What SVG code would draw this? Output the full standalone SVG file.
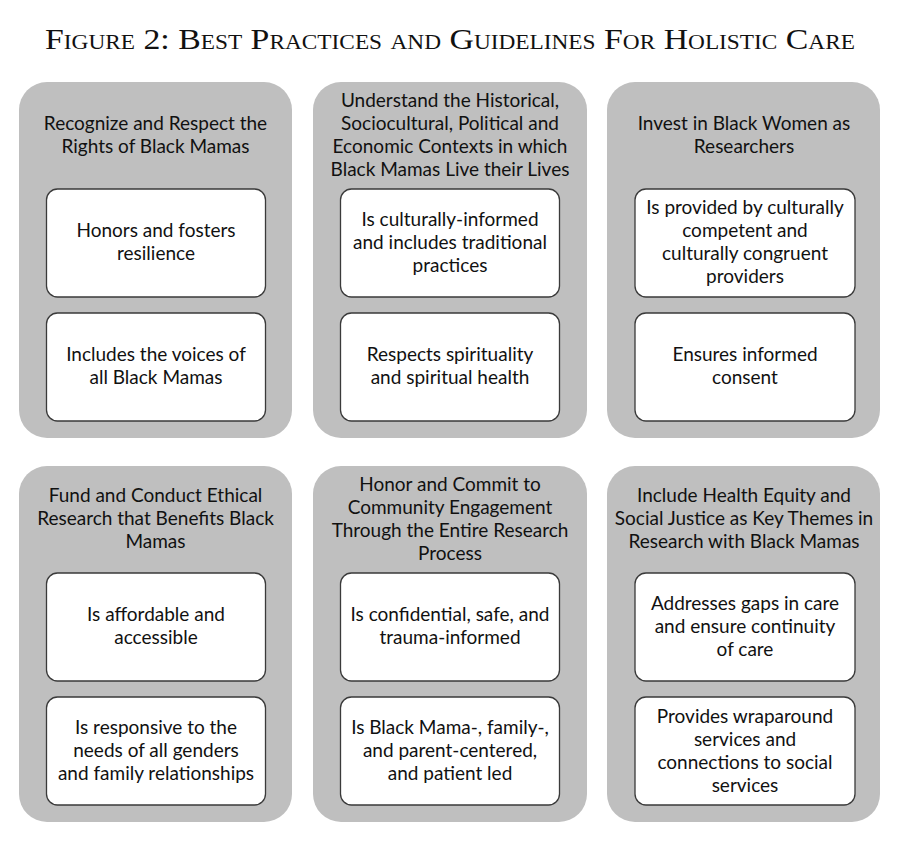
<svg xmlns="http://www.w3.org/2000/svg" width="898" height="842" viewBox="0 0 898 842">
<style>
.bg{fill:#ffffff}
.outer{fill:#bfbfbf}
.inner{fill:#ffffff;stroke:#3a3a3a;stroke-width:1.3}
.t{font-family:Lato,"Open Sans","Noto Sans",sans-serif;font-size:19px;fill:#111111;text-anchor:middle}
.title{font-family:"Liberation Serif","Times New Roman",serif;font-size:29px;font-variant:small-caps;fill:#111111;text-anchor:middle}
</style>
<rect class="bg" x="0" y="0" width="898" height="842"/>
<text class="title" x="450" y="49" textLength="810" lengthAdjust="spacingAndGlyphs">Figure 2: Best Practices and Guidelines For Holistic Care</text>

<g id="group1">
  <rect class="outer" x="19" y="82" width="273" height="356" rx="28"/>
  <text class="t" x="155.5" y="129.5"><tspan x="155.5">Recognize and Respect the</tspan><tspan x="155.5" dy="23">Rights of Black Mamas</tspan></text>
  <g id="g1a"><rect class="inner" x="46.5" y="189" width="219" height="108" rx="11"/>
  <text class="t" x="156" y="236.5"><tspan x="156">Honors and fosters</tspan><tspan x="156" dy="23">resilience</tspan></text></g>
  <g id="g1b"><rect class="inner" x="46.5" y="313" width="219" height="108" rx="11"/>
  <text class="t" x="156" y="360.5"><tspan x="156">Includes the voices of</tspan><tspan x="156" dy="23">all Black Mamas</tspan></text></g>
</g>

<g id="group2">
  <rect class="outer" x="313" y="82" width="274" height="356" rx="28"/>
  <text class="t" x="450" y="106.5"><tspan x="450">Understand the Historical,</tspan><tspan x="450" dy="23">Sociocultural, Political and</tspan><tspan x="450" dy="23">Economic Contexts in which</tspan><tspan x="450" dy="23">Black Mamas Live their Lives</tspan></text>
  <g id="g2a"><rect class="inner" x="340.5" y="189" width="219" height="108" rx="11"/>
  <text class="t" x="450" y="225.5"><tspan x="450">Is culturally-informed</tspan><tspan x="450" dy="23">and includes traditional</tspan><tspan x="450" dy="23">practices</tspan></text></g>
  <g id="g2b"><rect class="inner" x="340.5" y="313" width="219" height="108" rx="11"/>
  <text class="t" x="450" y="360.5"><tspan x="450">Respects spirituality</tspan><tspan x="450" dy="23">and spiritual health</tspan></text></g>
</g>

<g id="group3">
  <rect class="outer" x="607" y="82" width="273" height="356" rx="28"/>
  <text class="t" x="744" y="129.5"><tspan x="744">Invest in Black Women as</tspan><tspan x="744" dy="23">Researchers</tspan></text>
  <g id="g3a"><rect class="inner" x="635" y="189" width="220" height="108" rx="11"/>
  <text class="t" x="745" y="213.5"><tspan x="745">Is provided by culturally</tspan><tspan x="745" dy="23">competent and</tspan><tspan x="745" dy="23">culturally congruent</tspan><tspan x="745" dy="23">providers</tspan></text></g>
  <g id="g3b"><rect class="inner" x="635" y="313" width="220" height="108" rx="11"/>
  <text class="t" x="745" y="360.5"><tspan x="745">Ensures informed</tspan><tspan x="745" dy="23">consent</tspan></text></g>
</g>

<g id="group4">
  <rect class="outer" x="19" y="466" width="273" height="356" rx="28"/>
  <text class="t" x="155.5" y="501.5"><tspan x="155.5">Fund and Conduct Ethical</tspan><tspan x="155.5" dy="23">Research that Benefits Black</tspan><tspan x="155.5" dy="23">Mamas</tspan></text>
  <g id="g4a"><rect class="inner" x="46.5" y="573" width="219" height="108" rx="11"/>
  <text class="t" x="156" y="620.5"><tspan x="156">Is affordable and</tspan><tspan x="156" dy="23">accessible</tspan></text></g>
  <g id="g4b"><rect class="inner" x="46.5" y="697" width="219" height="108" rx="11"/>
  <text class="t" x="156" y="733.5"><tspan x="156">Is responsive to the</tspan><tspan x="156" dy="23">needs of all genders</tspan><tspan x="156" dy="23">and family relationships</tspan></text></g>
</g>

<g id="group5">
  <rect class="outer" x="313" y="466" width="274" height="356" rx="28"/>
  <text class="t" x="450" y="490.5"><tspan x="450">Honor and Commit to</tspan><tspan x="450" dy="23">Community Engagement</tspan><tspan x="450" dy="23">Through the Entire Research</tspan><tspan x="450" dy="23">Process</tspan></text>
  <g id="g5a"><rect class="inner" x="340.5" y="573" width="219" height="108" rx="11"/>
  <text class="t" x="450" y="620.5"><tspan x="450">Is confidential, safe, and</tspan><tspan x="450" dy="23">trauma-informed</tspan></text></g>
  <g id="g5b"><rect class="inner" x="340.5" y="697" width="219" height="108" rx="11"/>
  <text class="t" x="450" y="733.5"><tspan x="450">Is Black Mama-, family-,</tspan><tspan x="450" dy="23">and parent-centered,</tspan><tspan x="450" dy="23">and patient led</tspan></text></g>
</g>

<g id="group6">
  <rect class="outer" x="607" y="466" width="273" height="356" rx="28"/>
  <text class="t" x="744" y="501.5"><tspan x="744">Include Health Equity and</tspan><tspan x="744" dy="23">Social Justice as Key Themes in</tspan><tspan x="744" dy="23">Research with Black Mamas</tspan></text>
  <g id="g6a"><rect class="inner" x="635" y="573" width="220" height="108" rx="11"/>
  <text class="t" x="745" y="609.5"><tspan x="745">Addresses gaps in care</tspan><tspan x="745" dy="23">and ensure continuity</tspan><tspan x="745" dy="23">of care</tspan></text></g>
  <g id="g6b"><rect class="inner" x="635" y="697" width="220" height="108" rx="11"/>
  <text class="t" x="745" y="722.5"><tspan x="745">Provides wraparound</tspan><tspan x="745" dy="23">services and</tspan><tspan x="745" dy="23">connections to social</tspan><tspan x="745" dy="23">services</tspan></text></g>
</g>
</svg>
